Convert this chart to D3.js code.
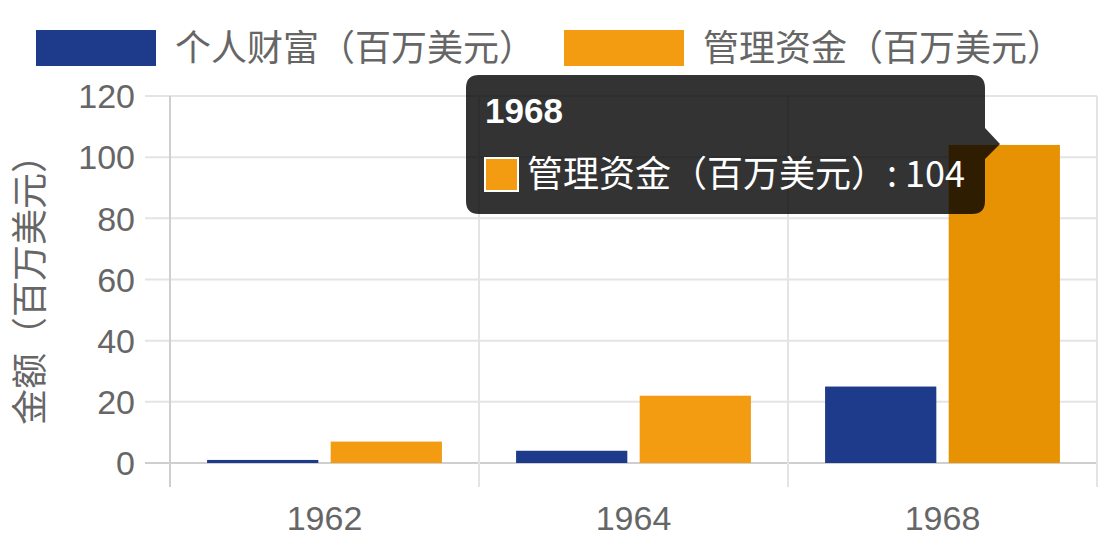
<!DOCTYPE html>
<html>
<head>
<meta charset="utf-8">
<script src="https://cdn.jsdelivr.net/npm/d3@7"></script>
<style>
  body { margin: 0; background: #fff; }
  svg { display: block; font-family: "Liberation Sans", Arial, "Noto Sans CJK SC", sans-serif; }
</style>
</head>
<body>
<svg id="chart" width="1098" height="549"></svg>
<script>
// chart data
const years = ['1962', '1964', '1968'];
const seriesNames = ['个人财富（百万美元）', '管理资金（百万美元）'];
const wealth = [1, 4, 25];
const managed = [7, 22, 104];
const yTicks = [0, 20, 40, 60, 80, 100, 120];
const colors = ['#1e3a8a', '#f39c12'];
const hoverColor = '#e69203';

const svg = d3.select('#chart');
const textColor = '#666';
const cjk = '"Noto Sans CJK SC", "Liberation Sans", sans-serif';

const plotLeft = 170, plotRight = 1097, plotTop = 96, plotBottom = 463;

const x0 = d3.scaleBand().domain(years).range([plotLeft, plotRight]);
const x1 = d3.scaleBand().domain(seriesNames)
    .range([x0.bandwidth() * 0.1, x0.bandwidth() * 0.9])
    .paddingInner(0.1).paddingOuter(0.05);
const y = d3.scaleLinear().domain([0, 120]).range([plotBottom, plotTop]);

// horizontal grid
svg.append('g').selectAll('line')
    .data(yTicks)
    .enter().append('line')
    .attr('x1', plotLeft - 25).attr('x2', plotRight)
    .attr('y1', d => y(d)).attr('y2', d => y(d))
    .style('stroke', d => d === 0 ? '#cfcfcf' : '#e4e4e4')
    .style('stroke-width', 2);

// vertical grid (category edges)
const edges = years.map(d => x0(d)).concat([plotRight]);
svg.append('g').selectAll('line')
    .data(edges)
    .enter().append('line')
    .attr('x1', d => d).attr('x2', d => d)
    .attr('y1', plotTop).attr('y2', plotBottom + 24)
    .style('stroke', (d, i) => i === 0 ? '#cfcfcf' : '#e4e4e4')
    .style('stroke-width', 2);

// y tick labels
svg.append('g').selectAll('text')
    .data(yTicks)
    .enter().append('text')
    .attr('x', 135).attr('y', d => y(d))
    .attr('dy', '0.36em')
    .attr('text-anchor', 'end')
    .style('font-size', '34px')
    .style('fill', textColor)
    .text(d => d);

// x tick labels
svg.append('g').selectAll('text')
    .data(years)
    .enter().append('text')
    .attr('x', d => x0(d) + x0.bandwidth() / 2)
    .attr('y', 530)
    .attr('text-anchor', 'middle')
    .style('font-size', '34px')
    .style('fill', textColor)
    .text(d => d);

// y axis title
svg.append('text')
    .attr('transform', 'translate(43,281) rotate(-90)')
    .attr('text-anchor', 'middle')
    .style('font-family', cjk)
    .style('font-size', '36px')
    .style('fill', textColor)
    .text('金额（百万美元）');

// bars
const rows = years.map((yr, i) => ({year: yr, values: [wealth[i], managed[i]]}));
const groups = svg.append('g').selectAll('g')
    .data(rows)
    .enter().append('g')
    .attr('transform', d => `translate(${x0(d.year)},0)`);

groups.selectAll('rect')
    .data(d => d.values.map((v, j) => ({name: seriesNames[j], value: v, j: j, year: d.year})))
    .enter().append('rect')
    .attr('x', d => x1(d.name))
    .attr('width', x1.bandwidth())
    .attr('y', d => y(d.value))
    .attr('height', d => y(0) - y(d.value))
    .style('fill', d => (d.j === 1 && d.year === '1968') ? hoverColor : colors[d.j]);

// legend
const legendX = [36, 564];
const legend = svg.append('g').selectAll('g')
    .data(seriesNames)
    .enter().append('g')
    .attr('transform', (d, i) => `translate(${legendX[i]},30)`);
legend.append('rect')
    .attr('width', 120).attr('height', 36)
    .style('fill', (d, i) => colors[i]);
legend.append('text')
    .attr('x', 139).attr('y', 18)
    .attr('dy', '0.36em')
    .style('font-family', cjk)
    .style('font-size', '36px')
    .style('fill', textColor)
    .text(d => d);

// tooltip for the hovered 1968 bar
const tip = svg.append('g');
const bx = 466, by = 75, bw = 519, bh = 139, r = 13;
const tipPath = d3.path();
tipPath.moveTo(bx + r, by);
tipPath.lineTo(bx + bw - r, by);
tipPath.quadraticCurveTo(bx + bw, by, bx + bw, by + r);
tipPath.lineTo(bx + bw, by + 53);
tipPath.lineTo(bx + bw + 15, by + 69);
tipPath.lineTo(bx + bw, by + 84);
tipPath.lineTo(bx + bw, by + bh - r);
tipPath.quadraticCurveTo(bx + bw, by + bh, bx + bw - r, by + bh);
tipPath.lineTo(bx + r, by + bh);
tipPath.quadraticCurveTo(bx, by + bh, bx, by + bh - r);
tipPath.lineTo(bx, by + r);
tipPath.quadraticCurveTo(bx, by, bx + r, by);
tipPath.closePath();
tip.append('path')
    .attr('d', tipPath.toString())
    .style('fill', 'rgba(0,0,0,0.8)');
tip.append('text')
    .attr('x', 485).attr('y', 123)
    .style('font-size', '35px')
    .style('font-weight', 'bold')
    .style('fill', '#fff')
    .text(years[2]);
tip.append('rect')
    .attr('x', 485).attr('y', 158)
    .attr('width', 33).attr('height', 33)
    .style('fill', colors[1])
    .style('stroke', '#fff')
    .style('stroke-width', 2);
tip.append('text')
    .attr('x', 527).attr('y', 187)
    .style('font-family', cjk)
    .style('font-size', '36px')
    .style('fill', '#fff')
    .text(seriesNames[1] + ': ' + managed[2]);
</script>
</body>
</html>
